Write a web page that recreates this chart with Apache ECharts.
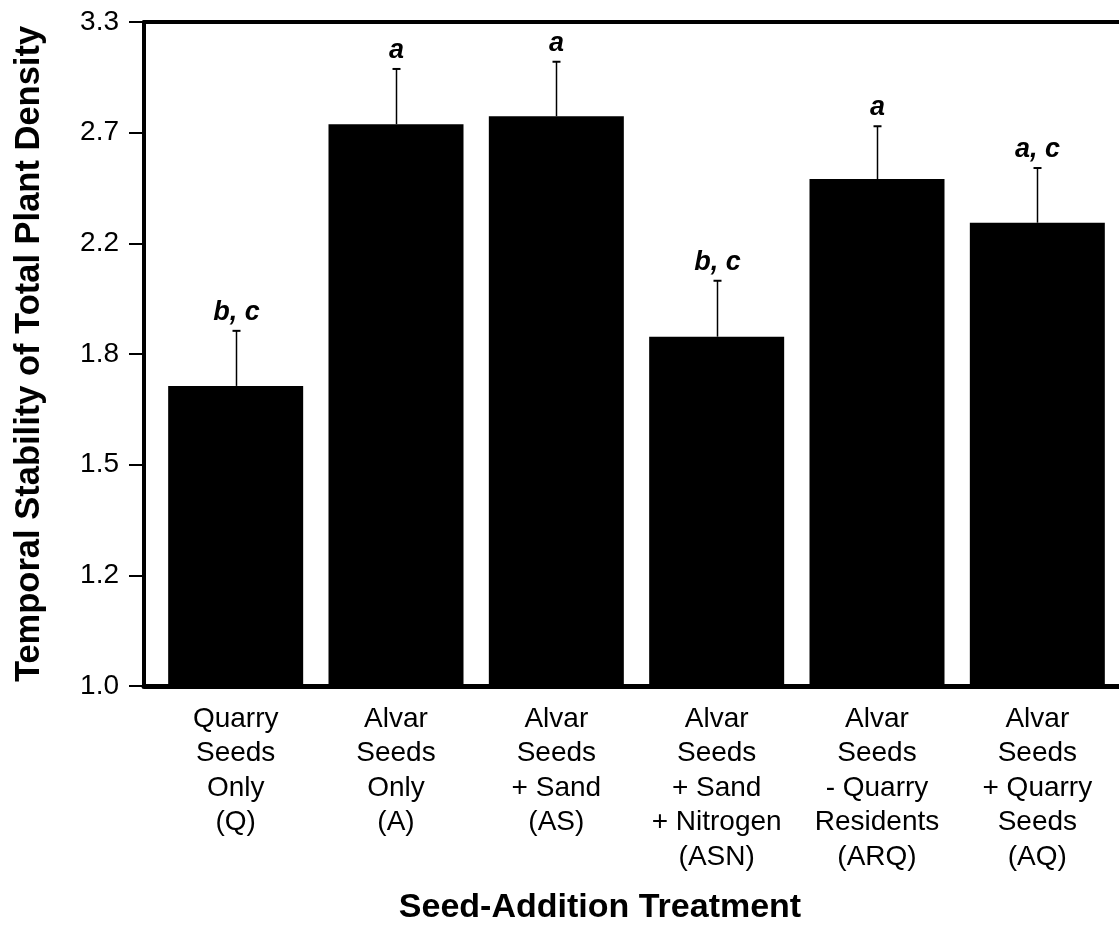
<!DOCTYPE html>
<html><head><meta charset="utf-8">
<script src="https://cdn.jsdelivr.net/npm/echarts@6/dist/echarts.min.js"></script>
<style>html,body{margin:0;padding:0;background:#fff}#c{width:1119px;height:926px}</style>
</head><body><div id="c"></div>
<script>
const categories = ['Quarry\nSeeds\nOnly\n(Q)', 'Alvar\nSeeds\nOnly\n(A)', 'Alvar\nSeeds\n+ Sand\n(AS)', 'Alvar\nSeeds\n+ Sand\n+ Nitrogen\n(ASN)', 'Alvar\nSeeds\n- Quarry\nResidents\n(ARQ)', 'Alvar\nSeeds\n+ Quarry\nSeeds\n(AQ)'];
const means = [1.72, 2.76, 2.80, 1.88, 2.50, 2.31];
const upper = [1.90, 3.05, 3.09, 2.08, 2.75, 2.55];
const letters = ['b, c', 'a', 'a', 'b, c', 'a', 'a, c'];
const yTickLabels = ['1.0', '1.2', '1.5', '1.8', '2.2', '2.7', '3.3'];
const yTitle = 'Temporal Stability of Total Plant Density';
const xTitle = 'Seed-Addition Treatment';

const FONT = '"Liberation Sans", Arial, Helvetica, sans-serif';
const chart = echarts.init(document.getElementById('c'), null, {renderer: 'canvas'});
const Y_MAX = 1.2, Y_STEP = 0.2;

const errData = means.map((m, i) => [i, Math.log(m), Math.log(upper[i])]);

chart.setOption({
  animation: false,
  backgroundColor: '#fff',
  textStyle: {fontFamily: FONT, color: '#000'},
  grid: [
    {left: 144, right: 0, top: 22, bottom: 240},
    {left: 155.5, right: 1.5, top: 22, bottom: 240}
  ],
  xAxis: [
    {gridIndex: 0, type: 'value', min: 0, max: 1, position: 'bottom',
     axisLine: {show: true, lineStyle: {color: '#000', width: 5}},
     axisTick: {show: false}, axisLabel: {show: false}, splitLine: {show: false}},
    {gridIndex: 0, type: 'value', min: 0, max: 1, position: 'top',
     axisLine: {show: true, lineStyle: {color: '#000', width: 4}},
     axisTick: {show: false}, axisLabel: {show: false}, splitLine: {show: false}},
    {gridIndex: 1, type: 'category', data: categories,
     axisLine: {show: false}, axisTick: {show: false}, splitLine: {show: false},
     axisLabel: {interval: 0, color: '#000', fontSize: 28, lineHeight: 34.5, margin: 16, fontFamily: FONT, align: 'center'}}
  ],
  yAxis: [
    {gridIndex: 0, type: 'value', min: 0, max: Y_MAX, interval: Y_STEP,
     axisLine: {show: true, lineStyle: {color: '#000', width: 4}},
     axisTick: {show: true, length: 15, lineStyle: {color: '#000', width: 2}},
     splitLine: {show: false},
     axisLabel: {color: '#000', fontSize: 28, margin: 25, fontFamily: FONT,
       formatter: v => yTickLabels[Math.round(v / Y_STEP)]},
     name: yTitle, nameLocation: 'middle', nameGap: 97,
     nameTextStyle: {fontSize: 34.5, fontWeight: 'bold', color: '#000', fontFamily: FONT}},
    {gridIndex: 1, type: 'value', min: 0, max: Y_MAX, show: false}
  ],
  series: [
    {type: 'bar', xAxisIndex: 2, yAxisIndex: 1, data: means.map(v => Math.log(v)),
     barWidth: 135, itemStyle: {color: '#000'}, z: 2},
    {type: 'custom', xAxisIndex: 2, yAxisIndex: 1, data: errData, z: 3,
     renderItem: function (params, api) {
       const x = api.value(0);
       const p0 = api.coord([x, api.value(1)]);
       const p1 = api.coord([x, api.value(2)]);
       const cx = Math.round(p0[0]) + 0.5;
       return {type: 'group', children: [
         {type: 'line', shape: {x1: cx, y1: p0[1], x2: cx, y2: p1[1]}, style: {stroke: '#000', lineWidth: 1.5}},
         {type: 'line', shape: {x1: cx - 4, y1: p1[1], x2: cx + 4, y2: p1[1]}, style: {stroke: '#000', lineWidth: 2}},
         {type: 'text', x: cx, y: p1[1] - 5, style: {text: letters[params.dataIndex], fill: '#000',
           fontSize: 27, fontWeight: 'bold', fontStyle: 'italic', fontFamily: FONT,
           align: 'center', verticalAlign: 'bottom'}}
       ]};
     }}
  ],
  graphic: [
    {type: 'text', x: 600, y: 908, style: {text: xTitle, fill: '#000', fontSize: 34, fontWeight: 'bold', fontFamily: FONT,
      align: 'center', verticalAlign: 'middle'}}
  ]
});
</script></body></html>
